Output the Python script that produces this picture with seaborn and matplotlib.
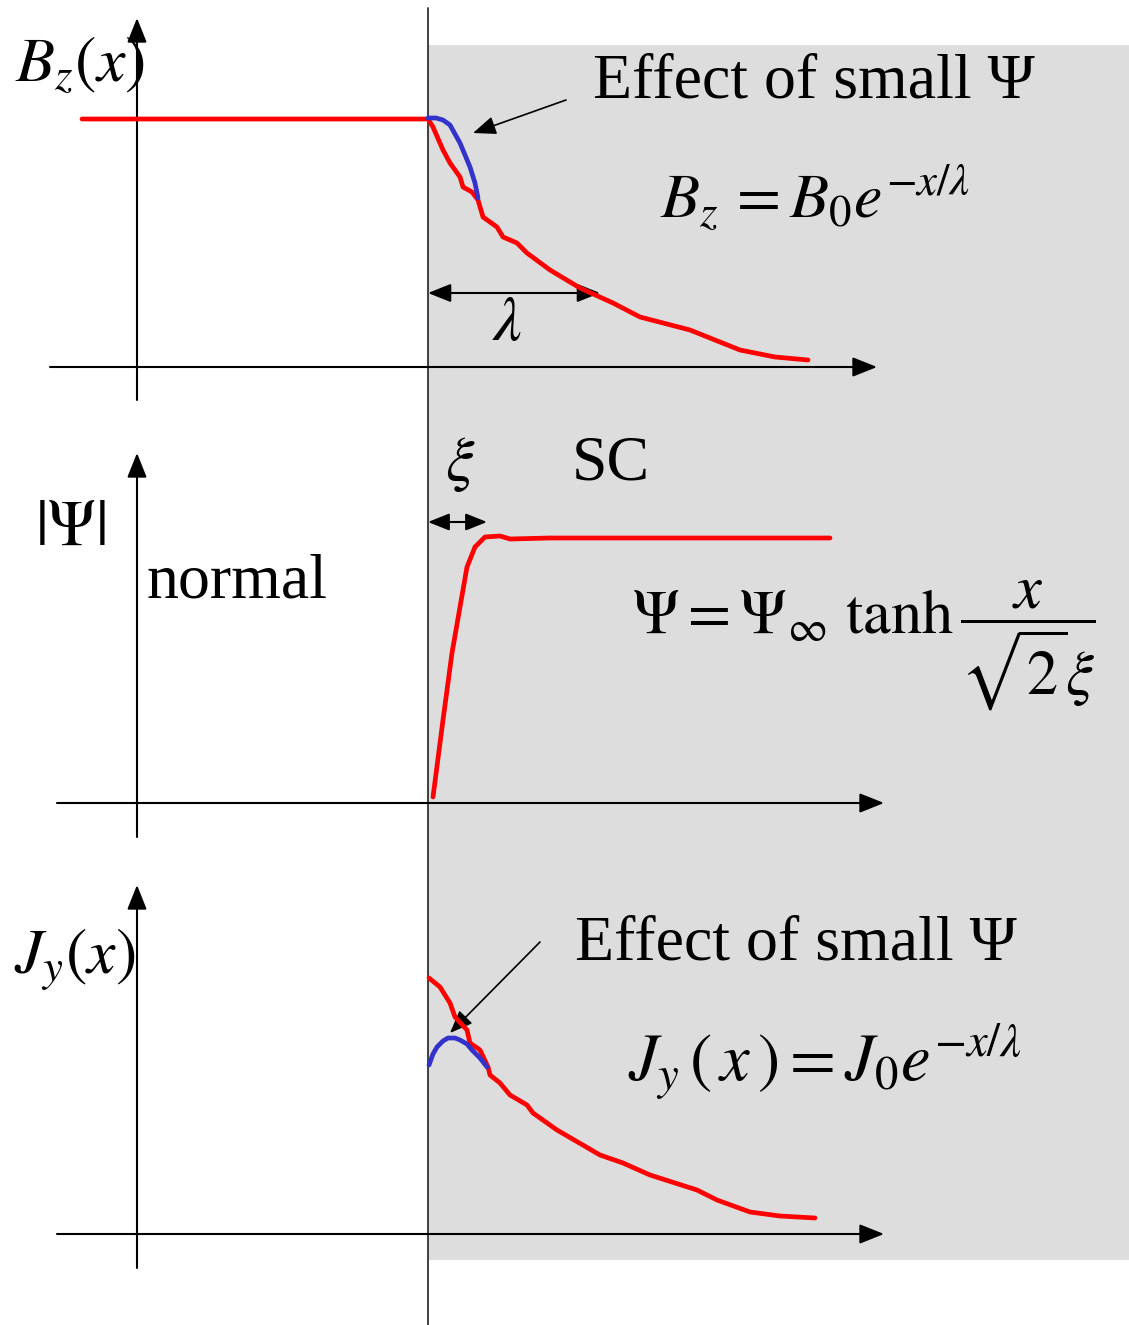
import matplotlib
matplotlib.use("Agg")
import matplotlib.pyplot as plt
import seaborn as sns
import pandas as pd
from matplotlib.patches import Rectangle

sns.set_theme(style="white")
plt.rcParams["font.family"] = ["Liberation Serif", "DejaVu Serif"]
plt.rcParams["mathtext.fontset"] = "stix"
plt.rcParams["text.color"] = "black"

W, H = 1129, 1325

# ---- curves (drawing units: x to the right, y downward) ----
# magnetic field B_z(x): flat in the normal region, decaying inside the SC
bz_x = [82, 428, 433, 443, 450, 460, 463, 472, 478, 483, 497, 503, 517, 527,
        550, 580, 613, 640, 690, 740, 775, 808]
bz_y = [119, 119, 127, 150, 163, 177, 187, 192, 200, 217, 227, 237, 243, 253,
        270, 288, 303, 317, 330, 350, 357, 360]
# B_z with the effect of a small order parameter
bz_psi_x = [428, 436, 443, 450, 460, 470, 475, 478]
bz_psi_y = [118, 118, 120, 125, 143, 167, 183, 198]

# order parameter |Psi|
psi_x = [433, 443, 452, 460, 467, 475, 485, 500, 510, 550, 830]
psi_y = [797, 720, 653, 607, 567, 547, 537, 536, 539, 538, 538]

# supercurrent J_y(x)
jy_x = [429, 440, 450, 455, 467, 470, 480, 488, 490, 500, 510, 527, 533, 557,
        600, 623, 650, 697, 717, 750, 780, 815]
jy_y = [978, 987, 1003, 1017, 1030, 1043, 1050, 1067, 1075, 1083, 1095, 1105,
        1113, 1130, 1155, 1163, 1175, 1190, 1200, 1212, 1216, 1218]
# J_y with the effect of a small order parameter
jy_psi_x = [429, 433, 437, 443, 448, 455, 460, 467, 472, 480, 487]
jy_psi_y = [1065, 1054, 1047, 1041, 1038, 1038, 1040, 1044, 1050, 1058, 1067]

RED = "#FF0000"
BLUE = "#3333CC"

fig = plt.figure(figsize=(W / 100, H / 100), dpi=100)
ax = fig.add_axes([0, 0, 1, 1])

# superconducting region
ax.add_patch(Rectangle((428, 45), W - 428, 1260 - 45, facecolor="#DDDDDD",
                       edgecolor="none", zorder=0))
# interface
ax.plot([428, 428], [8, H], color="#333333", lw=1.3, zorder=1)


def arrow(tail, tip, style="-|>", lw=1.5, ms=30, hl=0.5, hw=0.2):
    ax.annotate("", xy=tip, xytext=tail,
                arrowprops=dict(arrowstyle=f"{style},head_length={hl},head_width={hw}",
                                mutation_scale=ms, lw=lw, color="black",
                                shrinkA=0, shrinkB=0), zorder=3)


# axes of the three panels
for (ytop, ybot, yx, x0, x1) in [(18, 400, 367, 50, 877),
                                 (453, 837, 803, 57, 884),
                                 (885, 1268, 1234, 57, 884)]:
    arrow((137, ybot), (137, ytop))
    arrow((x0, yx), (x1, yx))


def curve(xs, ys, color):
    df = pd.DataFrame({"x": xs, "y": ys})
    sns.lineplot(data=df, x="x", y="y", sort=False, estimator=None, ax=ax,
                 color=color, lw=3.4, zorder=4)


curve(bz_x, bz_y, RED)
curve(bz_psi_x, bz_psi_y, BLUE)
curve(psi_x, psi_y, RED)
curve(jy_x, jy_y, RED)
curve(jy_psi_x, jy_psi_y, BLUE)
ax.set_xlim(0, W)
ax.set_ylim(H, 0)
ax.axis("off")

# annotation arrows
arrow((566, 100), (473, 133), lw=1.2, ms=28)
arrow((540, 942), (450, 1033), lw=1.2, ms=28)
arrow((428, 293), (600, 293), style="<|-|>", lw=1.5, ms=28)
arrow((428, 522), (487, 522), style="<|-|>", lw=1.5, ms=26)

# labels
FS = 46
FM = 48
ax.text(15, 65, r"$B_z(x)$", fontsize=FS, va="center", ha="left")
ax.text(35, 530, r"$|\Psi|$", fontsize=FS, va="center", ha="left")
ax.text(14, 960, r"$J_y(x)$", fontsize=FS, va="center", ha="left")
ax.text(147, 583, "normal", fontsize=FS, va="center", ha="left")
ax.text(572, 465, "SC", fontsize=FS, va="center", ha="left")
ax.text(460, 465, r"$\xi$", fontsize=FS, va="center", ha="center")
ax.text(507, 325, r"$\lambda$", fontsize=FS, va="center", ha="center")
ax.text(593, 82, "Effect of small Ψ", fontsize=FS, va="center", ha="left")
ax.text(575, 945, "Effect of small Ψ", fontsize=FS, va="center", ha="left")

ax.text(660, 198, r"$B_z\, = B_0 e^{-x/\lambda}$", fontsize=46, va="center",
        ha="left")
ax.text(632, 645, r"$\Psi = \Psi_{\infty}\ \mathrm{tanh}\,\dfrac{x}{\sqrt{2}\xi}$",
        fontsize=45, va="center", ha="left")
ax.text(628, 1062, r"$J_y\,\left(\,x\,\right) = J_0 e^{-x/\lambda}$", fontsize=FM,
        va="center", ha="left")

fig.savefig("out.png", dpi=100)
